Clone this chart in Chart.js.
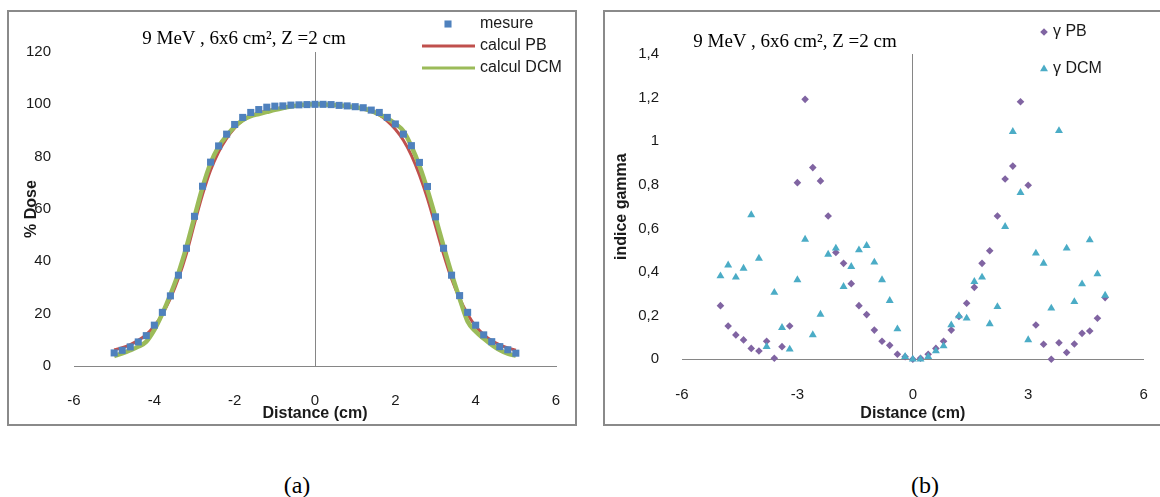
<!DOCTYPE html>
<html>
<head>
<meta charset="utf-8">
<script src="https://cdn.jsdelivr.net/npm/chart.js@4.4.1/dist/chart.umd.min.js"></script>
<style>
html,body{margin:0;padding:0;background:#fff;}
#page{position:relative;width:1160px;height:497px;overflow:hidden;background:#fff;}
.box{position:absolute;border:2px solid #8a8a8a;box-sizing:border-box;}
canvas{position:absolute;top:0;}
.ttl{position:absolute;font-family:"Liberation Serif","Times New Roman",serif;font-size:19px;color:#000;white-space:nowrap;transform:translate(-50%,-50%);}
.cap{position:absolute;font-family:"Liberation Serif","Times New Roman",serif;font-size:24px;color:#000;white-space:nowrap;transform:translate(-50%,-50%);}
</style>
</head>
<body>
<div id="page">
  <div class="box" style="left:7px;top:10px;width:570px;height:416px"></div>
  <div class="box" style="left:603px;top:10px;width:570px;height:416px"></div>
  <canvas id="cA" width="590" height="440" style="left:0;width:590px;height:440px"></canvas>
  <canvas id="cB" width="585" height="440" style="left:590px;width:585px;height:440px"></canvas>
  <div class="ttl" style="left:244px;top:38px">9 MeV , 6x6 cm², Z =2 cm</div>
  <div class="ttl" style="left:795px;top:41px">9 MeV , 6x6 cm², Z =2 cm</div>
  <div class="cap" style="left:297px;top:485px">(a)</div>
  <div class="cap" style="left:925px;top:485px">(b)</div>
</div>
<script>
// ---------- data ----------
const distance = [-5,-4.8,-4.6,-4.4,-4.2,-4,-3.8,-3.6,-3.4,-3.2,-3,-2.8,-2.6,-2.4,-2.2,-2,-1.8,-1.6,-1.4,-1.2,-1,-0.8,-0.6,-0.4,-0.2,0,
  0.2,0.4,0.6,0.8,1,1.2,1.4,1.6,1.8,2,2.2,2.4,2.6,2.8,3,3.2,3.4,3.6,3.8,4,4.2,4.4,4.6,4.8,5];

const mesure = [5.0,6.0,7.3,9.2,11.6,15.6,20.5,26.8,34.7,45.0,57.2,68.7,77.9,84.1,88.6,92.3,95.0,96.9,98.0,98.9,99.3,99.4,99.7,99.8,99.9,100,
  100,99.9,99.6,99.4,99.1,98.7,97.8,96.9,95.0,92.5,88.6,84.2,77.8,68.6,57.0,45.0,34.7,26.9,20.5,15.6,11.9,9.3,7.4,6.2,4.9];

const calculPB = [6.2,7.0,8.2,9.8,12.0,15.3,19.8,25.8,33.5,43.0,54.5,65.5,74.8,81.8,87.0,91.0,93.8,95.6,96.7,97.5,98.2,98.8,99.3,99.7,99.9,100,
  100,99.8,99.6,99.3,98.9,98.3,97.3,95.9,93.6,90.5,86.3,80.5,73.0,64.0,53.5,42.8,33.3,25.8,19.8,15.2,12.0,9.7,8.1,6.9,6.0];

const calculDCM = [3.8,4.8,6.0,7.4,9.3,13.8,20.0,27.3,35.5,45.5,57.0,68.3,77.5,83.8,88.0,91.5,94.0,95.5,96.3,97.1,97.9,98.6,99.2,99.6,99.9,100,
  100,99.8,99.6,99.3,98.9,98.4,97.5,96.2,94.6,92.6,89.8,84.0,76.5,67.3,56.8,45.8,35.3,25.8,17.0,13.2,10.5,8.1,6.1,4.7,3.9];

const gammaPB = [0.246,0.153,0.112,0.089,0.050,0.038,0.083,0.005,0.058,0.153,0.81,1.192,0.879,0.818,0.657,0.49,0.44,0.347,0.246,0.205,0.134,0.083,0.064,0.023,0.012,0,
  0.005,0.023,0.050,0.083,0.134,0.196,0.257,0.33,0.44,0.498,0.657,0.827,0.886,1.181,0.798,0.157,0.069,0.0,0.076,0.031,0.070,0.119,0.13,0.188,0.283];

const gammaDCM = [0.382,0.432,0.376,0.417,0.662,0.463,0.058,0.306,0.145,0.046,0.364,0.55,0.112,0.206,0.481,0.509,0.333,0.425,0.501,0.521,0.445,0.364,0.269,0.139,0.012,0.0,
  0.0,0.012,0.038,0.061,0.157,0.199,0.188,0.356,0.376,0.162,0.241,0.608,1.044,0.764,0.089,0.486,0.44,0.234,1.048,0.509,0.264,0.345,0.547,0.391,0.293];

const xTickLabelsA = ['-6','-4','-2','0','2','4','6'];
const yTickLabelsA = ['0','20','40','60','80','100','120'];
const xTickLabelsB = ['-6','-3','0','3','6'];
const yTickLabelsB = ['0','0,2','0,4','0,6','0,8','1','1,2','1,4'];

const seriesNamesA = ['mesure','calcul PB','calcul DCM'];
const seriesNamesB = ['\u03B3 PB','\u03B3 DCM'];

// ---------- styling ----------
const AXIS_GRAY = '#868686';
const TXT = '#1a1a1a';
const SANS = '"Liberation Sans", Arial, sans-serif';
const pts = (ys) => distance.map((x, i) => ({x: x, y: ys[i]}));

const customLegend = {
  id: 'customLegend',
  afterDraw(chart, args, opts) {
    if (!opts || !opts.items) return;
    const ctx = chart.ctx;
    ctx.save();
    opts.items.forEach(it => {
      const ds = chart.data.datasets[it.dataset];
      if (it.kind === 'line') {
        ctx.strokeStyle = ds.borderColor;
        ctx.lineWidth = it.lineWidth;
        ctx.beginPath();
        ctx.moveTo(it.x0, it.y);
        ctx.lineTo(it.x1, it.y);
        ctx.stroke();
      } else {
        ctx.fillStyle = ds.backgroundColor;
        Chart.helpers.drawPoint(ctx, {pointStyle: ds.pointStyle, radius: ds.pointRadius, borderWidth: 0, rotation: 0}, it.mx, it.y);
      }
      ctx.fillStyle = TXT;
      ctx.font = opts.font;
      ctx.textAlign = 'left';
      ctx.textBaseline = 'middle';
      ctx.fillText(ds.label, it.tx, it.y);
    });
    ctx.restore();
  }
};

function zeroLine(c) {
  return (c.tick && c.tick.value === 0) ? AXIS_GRAY : 'rgba(0,0,0,0)';
}

function makeScales(cfg) {
  return {
    x: {
      type: 'linear', min: cfg.xmin, max: cfg.xmax,
      ticks: {stepSize: cfg.xstep, padding: cfg.xpad, color: TXT, font: {family: SANS, size: 15},
        callback: (v, i) => cfg.xlabels[i]},
      grid: {drawTicks: false, color: zeroLine, lineWidth: 1},
      border: {display: true, color: AXIS_GRAY, width: 1},
      title: {display: true, text: 'Distance (cm)', color: TXT,
        font: {family: SANS, size: 16, weight: 'bold'}, padding: {top: 0, bottom: cfg.xtitlePad}},
      afterFit: s => { s.height = cfg.xh; }
    },
    y: {
      type: 'linear', min: cfg.ymin, max: cfg.ymax,
      ticks: {stepSize: cfg.ystep, padding: 23, color: TXT, font: {family: SANS, size: 15},
        callback: (v, i) => cfg.ylabels[i]},
      grid: {display: false, drawTicks: false},
      border: {display: false},
      title: {display: true, text: cfg.ytitle, color: TXT,
        font: {family: SANS, size: 16, weight: 'bold'}, padding: {top: cfg.ytitlePad, bottom: 0}},
      afterFit: s => { s.width = cfg.yw; }
    }
  };
}

Chart.defaults.animation = false;

new Chart(document.getElementById('cA'), {
  type: 'scatter',
  plugins: [customLegend],
  data: {
    datasets: [
      {label: seriesNamesA[0], data: pts(mesure), pointStyle: 'rect', pointRadius: 5, pointHoverRadius: 5,
        backgroundColor: '#4F81BD', borderColor: '#4F81BD', borderWidth: 0, showLine: false, order: 0, clip: false},
      {label: seriesNamesA[1], data: pts(calculPB), showLine: true, pointRadius: 0, pointHoverRadius: 0,
        borderColor: '#C0504D', backgroundColor: '#C0504D', borderWidth: 3, cubicInterpolationMode: 'monotone', order: 2, clip: false},
      {label: seriesNamesA[2], data: pts(calculDCM), showLine: true, pointRadius: 0, pointHoverRadius: 0,
        borderColor: '#9BBB59', backgroundColor: '#9BBB59', borderWidth: 4.5, cubicInterpolationMode: 'monotone', order: 1, clip: false}
    ]
  },
  options: {
    responsive: false, maintainAspectRatio: false, devicePixelRatio: 1, events: [],
    layout: {padding: {left: 0, top: 52, right: 34, bottom: 0}},
    plugins: {
      legend: {display: false}, tooltip: {enabled: false},
      customLegend: {
        font: '16px ' + SANS,
        items: [
          {dataset: 0, kind: 'point', mx: 448, tx: 480, y: 24},
          {dataset: 1, kind: 'line', x0: 422, x1: 475, lineWidth: 3, tx: 480, y: 46},
          {dataset: 2, kind: 'line', x0: 422, x1: 475, lineWidth: 3, tx: 480, y: 68}
        ]
      }
    },
    scales: makeScales({xmin: -6, xmax: 6, xstep: 2, xlabels: xTickLabelsA, xpad: 26, xtitlePad: 17, xh: 74,
      ymin: 0, ymax: 120, ystep: 20, ylabels: yTickLabelsA, ytitle: '% Dose', ytitlePad: 22, yw: 74})
  }
});

new Chart(document.getElementById('cB'), {
  type: 'scatter',
  plugins: [customLegend],
  data: {
    datasets: [
      {label: seriesNamesB[0], data: pts(gammaPB), pointStyle: 'rectRot', pointRadius: 3.8, pointHoverRadius: 3.8,
        backgroundColor: '#8064A2', borderColor: '#8064A2', borderWidth: 0, showLine: false, order: 1, clip: false},
      {label: seriesNamesB[1], data: pts(gammaDCM), pointStyle: 'triangle', pointRadius: 4.6, pointHoverRadius: 4.6,
        backgroundColor: '#4BACC6', borderColor: '#4BACC6', borderWidth: 0, showLine: false, order: 0, clip: false}
    ]
  },
  options: {
    responsive: false, maintainAspectRatio: false, devicePixelRatio: 1, events: [],
    layout: {padding: {left: 0, top: 54, right: 31.4, bottom: 0}},
    plugins: {
      legend: {display: false}, tooltip: {enabled: false},
      customLegend: {
        font: '16px ' + SANS,
        items: [
          {dataset: 0, kind: 'point', mx: 454, tx: 463, y: 32},
          {dataset: 1, kind: 'point', mx: 454, tx: 463, y: 69}
        ]
      }
    },
    scales: makeScales({xmin: -6, xmax: 6, xstep: 3, xlabels: xTickLabelsB, xpad: 27, xtitlePad: 17, xh: 80.7,
      ymin: 0, ymax: 1.4, ystep: 0.2, ylabels: yTickLabelsB, ytitle: 'indice gamma', ytitlePad: 22, yw: 92})
  }
});
</script>
</body>
</html>
